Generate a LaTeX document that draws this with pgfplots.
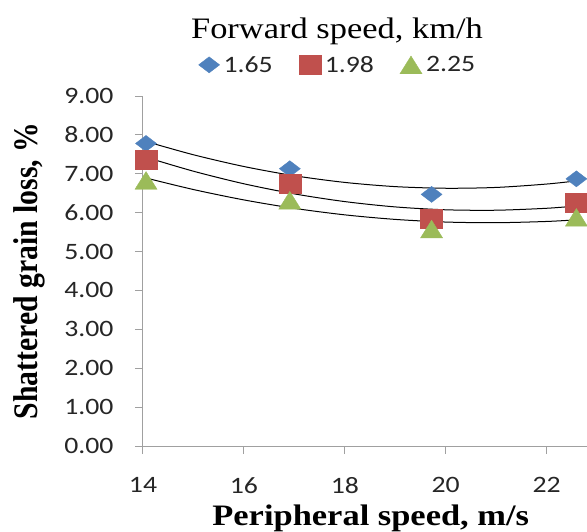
\documentclass[border=0pt]{standalone}
\usepackage{fontspec}
\setmainfont{Liberation Serif}[FakeStretch=1.16]
\newfontfamily\serifns{Liberation Serif}
\newfontfamily\calib{Carlito}[FakeStretch=1.18]
\usepackage{pgfplots}
\pgfplotsset{compat=1.18}
\definecolor{sblue}{HTML}{4F81BD}
\definecolor{sred}{HTML}{C0504D}
\definecolor{sgreen}{HTML}{9BBB59}
\definecolor{axgrey}{HTML}{A0A0A0}

% measured points
\pgfplotstableread{
x      y
14.06  7.78
16.91  7.13
19.72  6.47
22.59  6.87
}\speeda
\pgfplotstableread{
x      y
14.06  7.35
16.91  6.74
19.72  5.85
22.59  6.25
}\speedb
\pgfplotstableread{
x      y
14.06  6.83
16.91  6.32
19.72  5.58
22.59  5.88
}\speedc

\begin{document}
\begin{tikzpicture}
\path[use as bounding box] (-143bp,-86bp) rectangle (444bp,446bp);
\begin{axis}[
  scale only axis, width=444bp, height=350bp,
  at={(0,0)}, anchor=south west,
  xmin=14, xmax=22.8, ymin=0, ymax=9,
  xtick={14,16,18,20,22}, ytick={0,1,...,9},
  axis x line*=bottom, axis y line*=left,
  axis line style={axgrey, line width=1bp, -},
  tick style={axgrey, line width=1bp},
  tick align=outside, major tick length=8bp,
  /pgf/number format/assume math mode=true,
  ticklabel style={font=\fontsize{23.5bp}{26bp}\calib, text=black!85},
  yticklabel style={xshift=-18bp},
  xticklabel style={yshift=-20bp},
  yticklabel={\pgfmathprintnumber[fixed,fixed zerofill,precision=2]{\tick}},
  xticklabel style={/pgf/number format/fixed},
  xlabel={\bfseries Peripheral speed, m/s},
  xlabel style={font=\fontsize{29.7bp}{34bp}\selectfont, at={(axis description cs:0.513,-0.2285)}, anchor=base},
  ylabel={\scalebox{1}[1.16]{\serifns\bfseries Shattered grain loss, \%}},
  ylabel style={font=\fontsize{29.7bp}{34bp}\selectfont, at={(axis description cs:-0.2365,0.5)}, anchor=base},
  clip=false,
  legend columns=3,
  legend style={draw=none, fill=none, at={(0.439,1.089)}, anchor=center,
    font=\fontsize{23.5bp}{26bp}\calib, text=black!85,
    /tikz/every odd column/.append style={column sep=2bp},
    /tikz/every even column/.append style={column sep=24bp},
    inner sep=0pt, outer sep=0pt},
  legend cell align=left,
  legend image code/.code={\draw[mark repeat=2,mark phase=2,#1] plot coordinates {(0bp,0bp)(11bp,0bp)(22bp,0bp)};},
]
% trendlines (2nd order)
\addplot[black, line width=1bp, smooth, forget plot] coordinates {
(14.06,7.831) (15,7.489) (16,7.187) (17,6.950) (18,6.778) (19,6.670)
(20,6.628) (21,6.649) (22,6.736) (22.59,6.817)};
\addplot[black, line width=1bp, smooth, forget plot] coordinates {
(14.06,7.426) (15,7.066) (16,6.743) (17,6.483) (18,6.285) (19,6.148)
(20,6.074) (21,6.063) (22,6.113) (22.59,6.172)};
\addplot[black, line width=1bp, smooth, forget plot] coordinates {
(14.06,6.891) (15,6.595) (16,6.328) (17,6.111) (18,5.944) (19,5.827)
(20,5.759) (21,5.742) (22,5.774) (22.59,5.816)};

\addplot[only marks, mark=diamond*, mark size=8bp, color=sblue,
  mark options={xscale=1.75, draw=sblue, fill=sblue}] table {\speeda};
\addlegendentry{1.65}
\addplot[only marks, mark=square*, mark size=9.5bp, color=sred,
  mark options={xscale=1.16, draw=sred, fill=sred}] table {\speedb};
\addlegendentry{1.98}
\addplot[only marks, mark=triangle*, mark size=11.8bp, color=sgreen,
  mark options={xscale=1.08, yshift=-3bp, draw=sgreen, fill=sgreen}] table {\speedc};
\addlegendentry{2.25}

\node[anchor=base, font=\fontsize{29.7bp}{34bp}\selectfont] at (axis description cs:0.437,1.1657) {Forward speed, km/h};
\end{axis}
\end{tikzpicture}
\end{document}
